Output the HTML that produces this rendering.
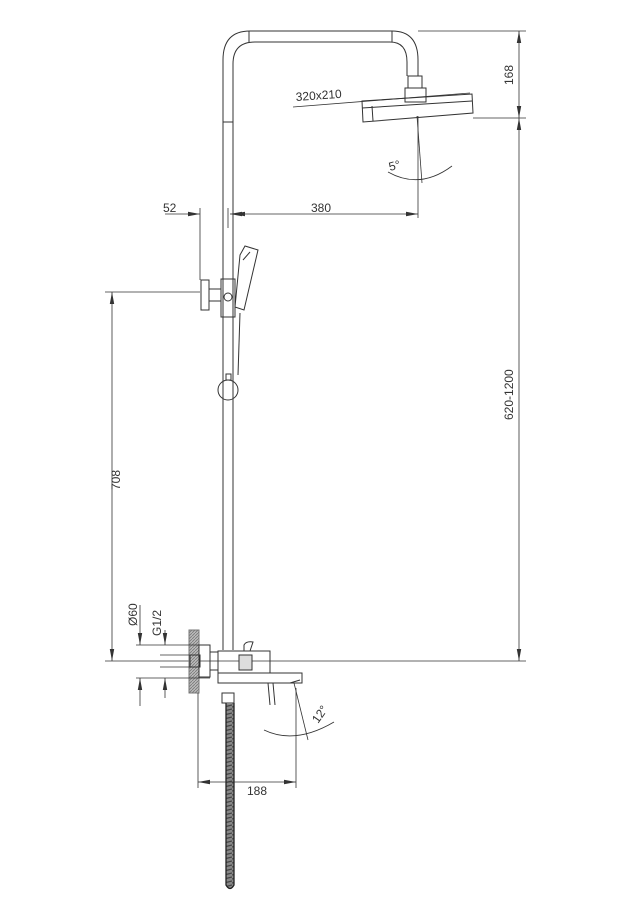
<!DOCTYPE html>
<html><head><meta charset="utf-8"><style>
html,body{margin:0;padding:0;background:#fff}
svg{display:block}
text{font-family:"Liberation Sans",sans-serif;font-size:12px;fill:#333}
</style></head><body>
<svg width="638" height="905" viewBox="0 0 638 905" xmlns="http://www.w3.org/2000/svg">
<defs>
<marker id="a" markerWidth="12" markerHeight="6" refX="12" refY="3" orient="auto-start-reverse" markerUnits="userSpaceOnUse"><path d="M0,0.8 L12,3 L0,5.2 z" fill="#333"/></marker>
<pattern id="h" width="3" height="3" patternUnits="userSpaceOnUse"><rect width="3" height="3" fill="#bbb"/><path d="M0,3 L3,0" stroke="#777" stroke-width="0.8"/></pattern>
<pattern id="c" width="8" height="4" patternUnits="userSpaceOnUse"><rect width="8" height="4" fill="#888"/><path d="M0,3 L8,1" stroke="#444" stroke-width="1.2"/></pattern>
</defs>
<g fill="none" stroke="#333" stroke-width="1">
<path d="M223,650 V60 Q223,31 250,31 H392 Q418,31 418,60 V76"/>
<path d="M233,650 V64 Q233,42 255,42 H390 Q407,42 407,62 V76"/>
<line x1="249" y1="31" x2="249" y2="42"/><line x1="392" y1="31" x2="392" y2="42"/>
<line x1="223" y1="122" x2="233" y2="122"/>
<rect x="408" y="76" width="14" height="12"/>
<rect x="405" y="88" width="21" height="14"/>
<path d="M362,101 L472,94 L473,113 L363,122 Z"/>
<path d="M362,108 L472,101"/>
<line x1="372" y1="106" x2="373" y2="121"/>
<line x1="418" y1="31" x2="526" y2="31" stroke-width="0.8"/>
<line x1="473" y1="118" x2="526" y2="118" stroke-width="0.8"/>
<line x1="519" y1="31" x2="519" y2="118" marker-start="url(#a)" marker-end="url(#a)" stroke-width="0.8"/>
<line x1="519" y1="118" x2="519" y2="661" marker-start="url(#a)" marker-end="url(#a)" stroke-width="0.8"/>
<line x1="105" y1="661" x2="526" y2="661" stroke-width="0.8"/>
<line x1="293" y1="107" x2="470" y2="93" stroke-width="0.8"/>
<line x1="418" y1="116" x2="418" y2="218" stroke-width="0.8"/>
<line x1="417" y1="116" x2="422" y2="183" stroke-width="0.8"/>
<path d="M388,172 Q420,190 452,166" stroke-width="0.8"/>
<line x1="165" y1="214" x2="200" y2="214" marker-end="url(#a)" stroke-width="0.8"/>
<line x1="245" y1="214" x2="230" y2="214" marker-end="url(#a)" stroke-width="0.8"/>
<line x1="233" y1="214" x2="418" y2="214" marker-start="url(#a)" marker-end="url(#a)" stroke-width="0.8"/>
<line x1="200" y1="208" x2="200" y2="280" stroke-width="0.8"/>
<line x1="228" y1="208" x2="228" y2="228" stroke-width="0.8"/>
<rect x="201" y="280" width="8" height="30"/>
<rect x="209" y="289" width="12" height="12"/>
<rect x="221" y="279" width="14" height="38"/>
<circle cx="228" cy="297" r="4"/>
<path d="M240,255 L245,246 L258,250 L244,310 L235,307 Z"/>
<path d="M243,260 L250,252"/>
<line x1="240" y1="313" x2="238" y2="375"/>
<rect x="226" y="374" width="5" height="6"/>
<circle cx="228" cy="390" r="10"/>
<line x1="105" y1="292" x2="200" y2="292" stroke-width="0.8"/>
<line x1="112" y1="292" x2="112" y2="661" marker-start="url(#a)" marker-end="url(#a)" stroke-width="0.8"/>
<rect x="189" y="630" width="10" height="63" fill="url(#h)" stroke="#777"/>
<rect x="199" y="645" width="11" height="32"/>
<rect x="190" y="655" width="10" height="12"/>
<rect x="210" y="652" width="8" height="18"/>
<rect x="218" y="651" width="52" height="22"/>
<path d="M244,651 V645 Q246,641 253,642 L250,651"/>
<rect x="239" y="655" width="13" height="15" fill="#ddd"/>
<rect x="218" y="673" width="84" height="10"/>
<path d="M290,683 L300,680"/>
<line x1="268" y1="683" x2="270" y2="705"/><line x1="273" y1="683" x2="275" y2="705"/>
<line x1="140" y1="605" x2="140" y2="645" marker-end="url(#a)" stroke-width="0.8"/>
<line x1="140" y1="706" x2="140" y2="678" marker-end="url(#a)" stroke-width="0.8"/>
<line x1="165" y1="630" x2="165" y2="645" marker-end="url(#a)" stroke-width="0.8"/>
<line x1="165" y1="698" x2="165" y2="678" marker-end="url(#a)" stroke-width="0.8"/>
<line x1="136" y1="645" x2="210" y2="645" stroke-width="0.8"/>
<line x1="136" y1="678" x2="210" y2="678" stroke-width="0.8"/>
<line x1="160" y1="655" x2="190" y2="655" stroke-width="0.8"/>
<line x1="160" y1="667" x2="190" y2="667" stroke-width="0.8"/>
<rect x="222" y="693" width="12" height="10"/>
<path d="M226,703 V885 Q230,892 234,885 V703" fill="url(#c)" stroke="#222" stroke-width="1.3"/>
<line x1="198" y1="693" x2="198" y2="788" stroke-width="0.8"/>
<line x1="296" y1="688" x2="296" y2="788" stroke-width="0.8"/>
<line x1="198" y1="782" x2="296" y2="782" marker-start="url(#a)" marker-end="url(#a)" stroke-width="0.8"/>
<line x1="294" y1="683" x2="308" y2="740" stroke-width="0.8"/>
<path d="M264,730 Q295,745 334,722" stroke-width="0.8"/>
</g>
<text x="296" y="101" transform="rotate(-4 296 101)">320x210</text>
<text x="390" y="171" transform="rotate(-15 390 171)">5°</text>
<text x="163" y="212">52</text>
<text x="311" y="212">380</text>
<text x="513" y="85" transform="rotate(-90 513 85)">168</text>
<text x="513" y="420" transform="rotate(-90 513 420)">620-1200</text>
<text x="120" y="490" transform="rotate(-90 120 490)">708</text>
<text x="137" y="626" transform="rotate(-90 137 626)">Ø60</text>
<text x="161" y="636" transform="rotate(-90 161 636)">G1/2</text>
<text x="247" y="795">188</text>
<text x="318" y="724" transform="rotate(-55 318 724)">12°</text>
</svg>
</body></html>
